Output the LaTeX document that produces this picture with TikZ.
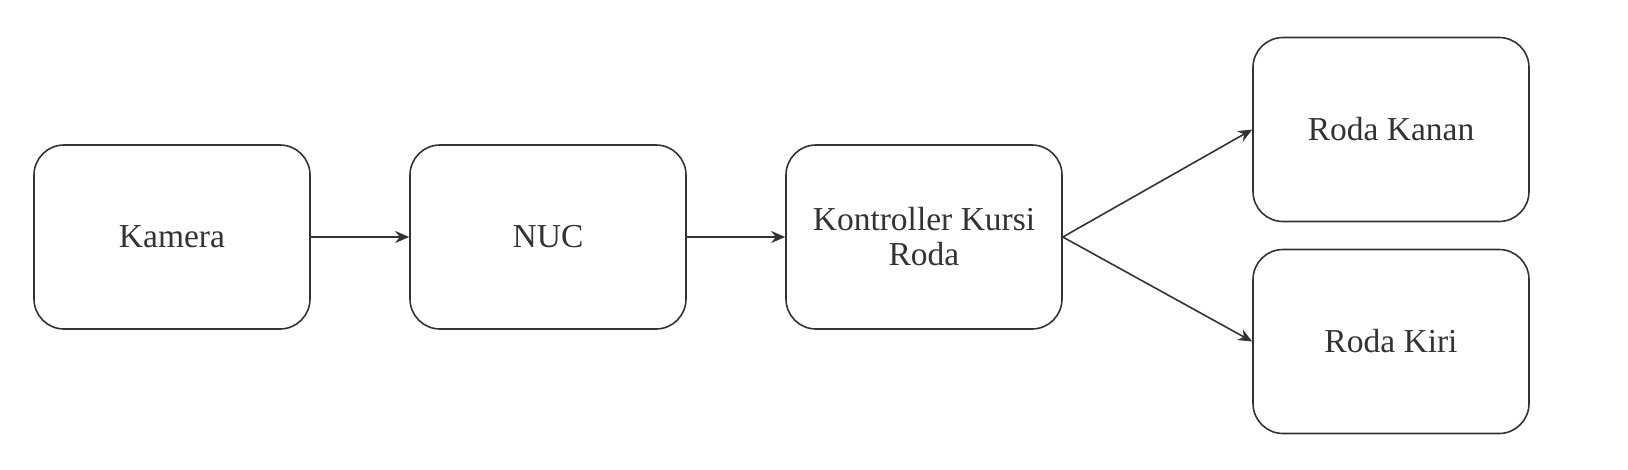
\documentclass[tikz,border=0pt]{standalone}
\usepackage{fontspec}
\setmainfont{Liberation Serif}
\usetikzlibrary{arrows.meta}
\definecolor{ink}{HTML}{333333}
\begin{document}
\begin{tikzpicture}[x=1pt, y=-1pt, font=\fontsize{33.5}{35}\selectfont,
  blok/.style={draw=ink, line width=1.6pt, rounded corners=30pt, minimum width=276pt, minimum height=184pt, align=center, text=ink},
  panah/.style={draw=ink, line width=1.6pt, -{Stealth[length=14pt, width=12pt]}}]
\useasboundingbox (0,0) rectangle (1628,469);
\node[blok] (kamera) at (172,237){Kamera};
\node[blok] (nuc) at (548,237){NUC};
\node[blok] (kontroller) at (924,237){Kontroller Kursi\\Roda};
\node[blok] (kanan) at (1391,129.5){Roda Kanan};
\node[blok] (kiri) at (1391,341.5){Roda Kiri};
\draw[panah](kamera) -- (nuc);
\draw[panah](nuc) -- (kontroller);
\draw[panah](kontroller.east) -- (kanan.west);
\draw[panah](kontroller.east) -- (kiri.west);
\end{tikzpicture}
\end{document}
